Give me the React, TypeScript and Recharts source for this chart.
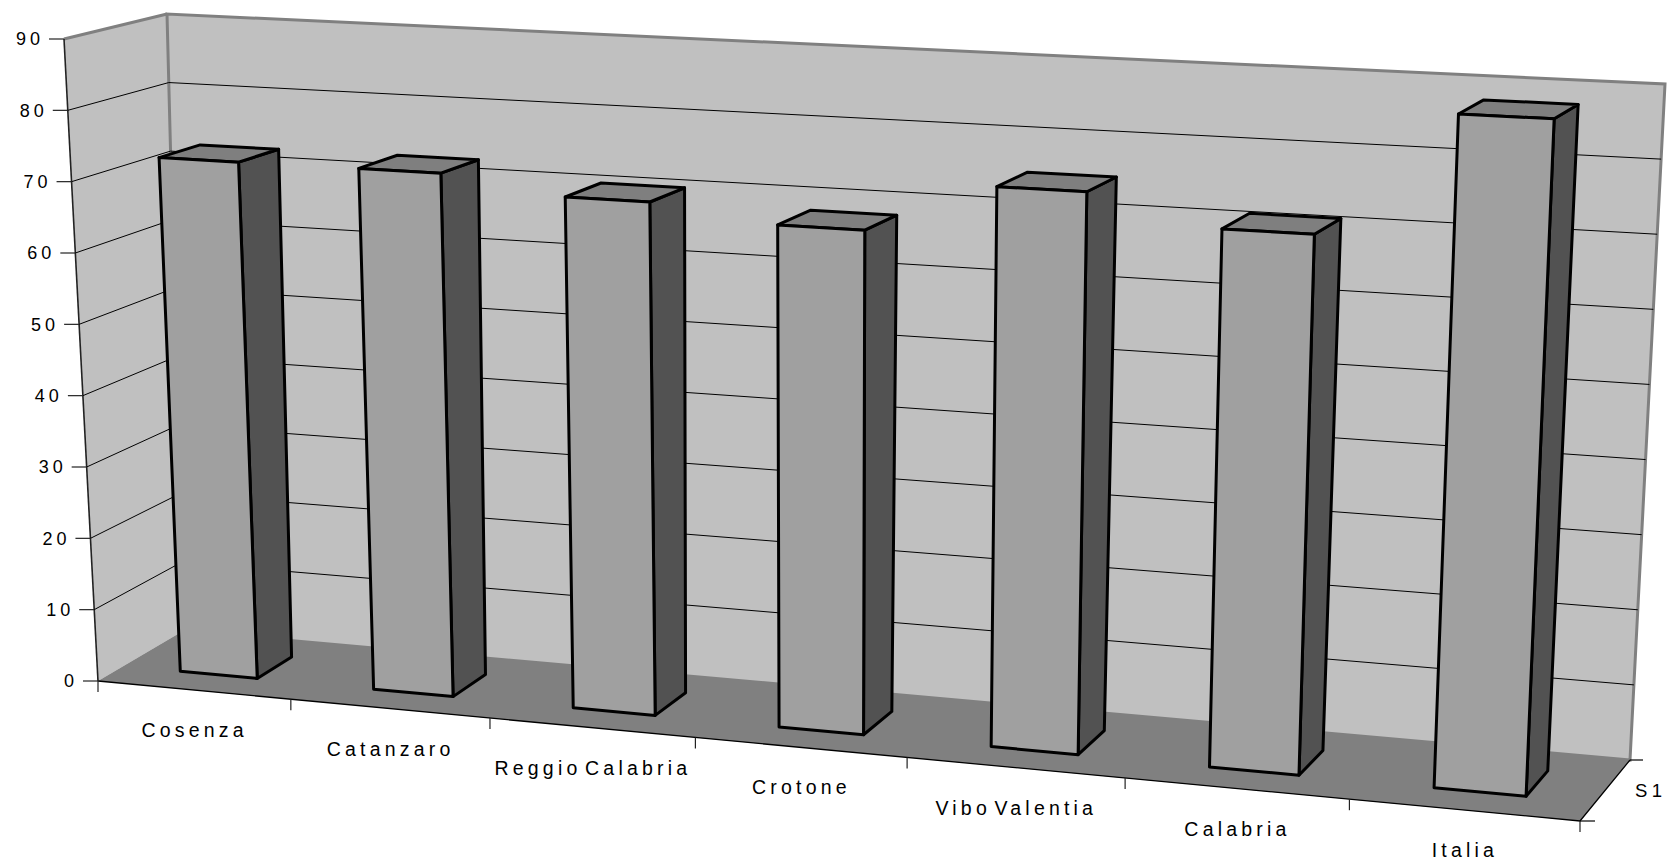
import { BarChart, Bar, XAxis, YAxis, CartesianGrid } from "recharts";

const categories = [
  "Cosenza",
  "Catanzaro",
  "Reggio Calabria",
  "Crotone",
  "Vibo Valentia",
  "Calabria",
  "Italia",
];
const values = [72.6, 72.7, 70.4, 68.3, 75.2, 71.3, 88.1];
const yTicks = [0, 10, 20, 30, 40, 50, 60, 70, 80, 90];
const seriesName = "S1";

const data = categories.map((name, i) => ({ name, value: values[i] }));

const W = 1668;
const H = 862;
// logical plot area (yAxis width 100, xAxis height 100, no margins)
const PL = 100;
const PT = 0;
const PW = W - 100;
const PH = H - 100;

type Pt = [number, number];
type Plane = { bl: Pt; br: Pt; tl: Pt; tr: Pt };

// screen corners of the front (z=0) and back (z=1) planes of the 3d box
const FRONT: Plane = { bl: [98, 681], br: [1580, 821], tl: [64, 39], tr: [1610, 118] };
const BACK: Plane = { bl: [183, 631], br: [1630, 760], tl: [167, 14], tr: [1665, 84] };
const Z0 = 0.3;
const Z1 = 0.72;

const FONT = "'Liberation Sans', Arial, sans-serif";

const lerp = (a: number, b: number, t: number) => a + (b - a) * t;

function onPlane(c: Plane, u: number, v: number): Pt {
  const bx = lerp(c.bl[0], c.br[0], u);
  const by = lerp(c.bl[1], c.br[1], u);
  const tx = lerp(c.tl[0], c.tr[0], u);
  const ty = lerp(c.tl[1], c.tr[1], u);
  return [lerp(bx, tx, v), lerp(by, ty, v)];
}

// u: 0..1 across categories, v: 0..1 of value axis, z: 0 front .. 1 back
function project(u: number, v: number, z: number): Pt {
  const w = u * (0.896 + 0.104 * u);
  const f = onPlane(FRONT, w, v);
  const b = onPlane(BACK, w, v);
  return [lerp(f[0], b[0], z), lerp(f[1], b[1], z)];
}

const pts = (arr: Pt[]) => arr.map((p) => `${p[0]},${p[1]}`).join(" ");

function Prism(props: any) {
  const { x, y, width, height, index } = props;
  if (height == null || width == null) return null;
  const u0 = (x - PL) / PW;
  const u1 = (x + width - PL) / PW;
  const v = (PT + PH - y) / PH;
  const front = [project(u0, 0, Z0), project(u1, 0, Z0), project(u1, v, Z0), project(u0, v, Z0)];
  const side = [project(u1, 0, Z0), project(u1, 0, Z1), project(u1, v, Z1), project(u1, v, Z0)];
  const top = [project(u0, v, Z0), project(u1, v, Z0), project(u1, v, Z1), project(u0, v, Z1)];
  return (
    <g key={`bar-${index}`} stroke="#000" strokeWidth={3} strokeLinejoin="round">
      <polygon points={pts(side)} fill="#525252" />
      <polygon points={pts(top)} fill="#7f7f7f" />
      <polygon points={pts(front)} fill="#a0a0a0" />
    </g>
  );
}

function GridLine(props: any) {
  const v = (PT + PH - props.y1) / PH;
  if (v < 0.01 || v > 0.99) return <g key={props.key} />;
  const line = [project(0, v, 0), project(0, v, 1), project(1, v, 1)];
  return <polyline key={props.key} points={pts(line)} fill="none" stroke="#000" strokeWidth={1} />;
}

function YTick(props: any) {
  const v = (PT + PH - props.y) / PH;
  const [ax, ay] = project(0, v, 0);
  return (
    <g>
      <line x1={ax - 15} y1={ay} x2={ax} y2={ay} stroke="#222" strokeWidth={1.2} />
      <text
        x={ax - 20}
        y={ay}
        dy="0.36em"
        textAnchor="end"
        fontFamily={FONT}
        fontSize={18}
        letterSpacing={4}
        fill="#000"
      >
        {props.payload.value}
      </text>
    </g>
  );
}

function XTick(props: any) {
  const n = categories.length;
  const band = PW / n;
  const uc = (props.x - PL) / PW;
  const ul = (props.x - band / 2 - PL) / PW;
  const ur = (props.x + band / 2 - PL) / PW;
  const [cx, cy] = project(uc, 0, 0);
  const [lx, ly] = project(ul, 0, 0);
  const [rx, ry] = project(ur, 0, 0);
  const last = props.payload.index === n - 1;
  return (
    <g>
      <line x1={lx} y1={ly} x2={lx} y2={ly + 11} stroke="#222" strokeWidth={1.2} />
      {last && <line x1={rx} y1={ry} x2={rx} y2={ry + 11} stroke="#222" strokeWidth={1.2} />}
      <text
        x={cx + 1}
        y={cy + 40}
        dy="0.36em"
        textAnchor="middle"
        fontFamily={FONT}
        fontSize={19.5}
        letterSpacing={4.2}
        wordSpacing={-6}
        fill="#000"
      >
        {props.payload.value}
      </text>
    </g>
  );
}

function Walls() {
  const leftWall = [project(0, 0, 0), project(0, 1, 0), project(0, 1, 1), project(0, 0, 1)];
  const backWall = [project(0, 0, 1), project(0, 1, 1), project(1, 1, 1), project(1, 0, 1)];
  const floor = [project(0, 0, 0), project(1, 0, 0), project(1, 0, 1), project(0, 0, 1)];
  const fr = project(1, 0, 0);
  const br = project(1, 0, 1);
  const mid = project(1, 0, 0.5);
  return (
    <svg width={W} height={H} style={{ position: "absolute", left: 0, top: 0 }}>
      <polygon points={pts(leftWall)} fill="#c0c0c0" />
      <polygon points={pts(backWall)} fill="#c0c0c0" stroke="#808080" strokeWidth={3} />
      <polyline points={pts([project(0, 1, 0), project(0, 1, 1)])} fill="none" stroke="#808080" strokeWidth={3} />
      <polygon points={pts(floor)} fill="#808080" />
      <polyline points={pts([project(0, 0, 0), project(1, 0, 0), project(1, 0, 1)])} fill="none" stroke="#000" strokeWidth={1.3} />
      <line x1={project(0, 0, 0)[0]} y1={project(0, 0, 0)[1]} x2={project(0, 1, 0)[0]} y2={project(0, 1, 0)[1]} stroke="#222" strokeWidth={1.6} />
      <line x1={fr[0]} y1={fr[1]} x2={fr[0] + 15} y2={fr[1]} stroke="#000" strokeWidth={1.2} />
      <line x1={br[0]} y1={br[1]} x2={br[0] + 13} y2={br[1]} stroke="#000" strokeWidth={1.2} />
      <text x={mid[0] + 30} y={mid[1]} dy="0.36em" fontFamily={FONT} fontSize={18.5} letterSpacing={4.5} fill="#000">
        {seriesName}
      </text>
    </svg>
  );
}

export default function App() {
  return (
    <div style={{ position: "absolute", left: 0, top: 0, width: W, height: H, background: "#fff" }}>
      <Walls />
      <div style={{ position: "absolute", left: 0, top: 0 }}>
        <BarChart
          width={W}
          height={H}
          data={data}
          margin={{ top: 0, right: 0, bottom: 0, left: 0 }}
          barCategoryGap="30%"
        >
          <CartesianGrid vertical={false} horizontal={(p: any) => <GridLine {...p} />} />
          <XAxis dataKey="name" height={100} axisLine={false} tickLine={false} interval={0} tick={<XTick />} />
          <YAxis
            width={100}
            domain={[0, 90]}
            ticks={yTicks}
            interval={0}
            axisLine={false}
            tickLine={false}
            tick={<YTick />}
          />
          <Bar dataKey="value" isAnimationActive={false} shape={(p: any) => <Prism {...p} />} />
        </BarChart>
      </div>
    </div>
  );
}
